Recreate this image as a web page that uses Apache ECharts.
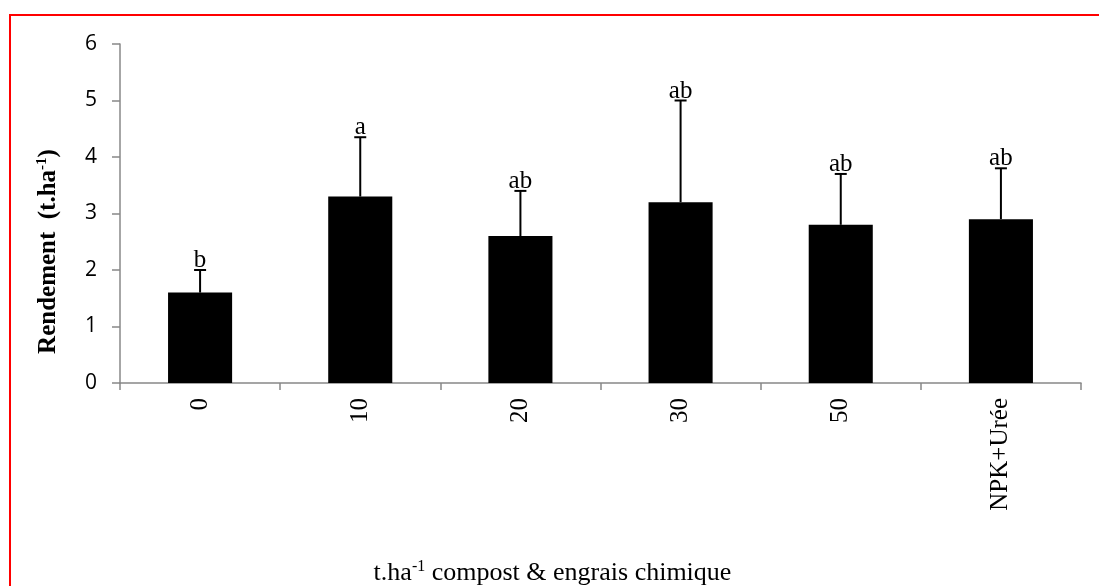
<!DOCTYPE html>
<html><head><meta charset="utf-8">
<script src="https://cdn.jsdelivr.net/npm/echarts@6/dist/echarts.min.js"></script>
<style>html,body{margin:0;padding:0;background:#fff}#c{width:1099px;height:586px}</style>
</head><body><div id="c"></div>
<script>
var categories = ['0', '10', '20', '30', '50', 'NPK+Urée'];
var yields = [1.6, 3.3, 2.6, 3.2, 2.8, 2.9];
var errorTops = [2.0, 4.35, 3.4, 5.0, 3.7, 3.8];
var letters = ['b', 'a', 'ab', 'ab', 'ab', 'ab'];
var yTicks = [0, 1, 2, 3, 4, 5, 6];

var chart = echarts.init(document.getElementById('c'));
var errData = categories.map(function (c, i) { return [i, yields[i], errorTops[i], letters[i]]; });

chart.setOption({
  animation: false,
  graphic: [{
    type: 'rect', shape: { x: 10, y: 15, width: 1200, height: 700 },
    style: { fill: 'none', stroke: '#ff0000', lineWidth: 2 }, z: 100
  }],
  grid: { left: 120, right: 18, top: 44, bottom: 203, containLabel: false, outerBoundsMode: 'none' },
  xAxis: {
    type: 'category', data: categories,
    axisLine: { lineStyle: { color: '#888', width: 1.5 } },
    axisTick: { show: true, alignWithLabel: false, length: 7, lineStyle: { color: '#888', width: 1.5 } },
    axisLabel: { rotate: 90, fontFamily: 'Liberation Serif', fontSize: 25, color: '#000', margin: 15 },
    name: '{a|t.ha}{s|-1}{a| compost & engrais chimique}',
    nameLocation: 'middle', nameGap: 176,
    nameTextStyle: {
      padding: [0, 96, 0, 0],
      rich: {
        a: { fontFamily: 'Liberation Serif', fontSize: 26, color: '#000' },
        s: { fontFamily: 'Liberation Serif', fontSize: 16, color: '#000', verticalAlign: 'top', padding: [0, 0, 12, 0] }
      }
    }
  },
  yAxis: {
    type: 'value', min: 0, max: 6, interval: 1,
    splitLine: { show: false },
    axisLine: { show: true, lineStyle: { color: '#888', width: 1.5 } },
    axisTick: { show: true, length: 8, lineStyle: { color: '#888', width: 1.5 } },
    axisLabel: {
      fontFamily: 'Open Sans', fontSize: 21, color: '#000', margin: 23,
      formatter: function (v) { return yTicks.indexOf(v) >= 0 ? String(v) : ''; }
    },
    name: '{a|Rendement  (t.ha}{s|-1}{a|)}',
    nameLocation: 'middle', nameGap: 58, nameRotate: 90,
    nameTextStyle: {
      padding: [0, 76, 0, 0],
      rich: {
        a: { fontFamily: 'Liberation Serif', fontSize: 25, fontWeight: 'bold', color: '#000' },
        s: { fontFamily: 'Liberation Serif', fontSize: 15, fontWeight: 'bold', color: '#000', verticalAlign: 'top', padding: [0, 0, 12, 0] }
      }
    }
  },
  series: [{
    type: 'bar', data: yields, barWidth: '40%',
    itemStyle: { color: '#000' }
  }, {
    type: 'custom', data: errData,
    renderItem: function (params, api) {
      var i = api.value(0);
      var p0 = api.coord([i, api.value(1)]);
      var p1 = api.coord([i, api.value(2)]);
      var cap = 6;
      return {
        type: 'group',
        children: [
          { type: 'line', shape: { x1: p0[0], y1: p0[1], x2: p1[0], y2: p1[1] }, style: { stroke: '#000', lineWidth: 2 } },
          { type: 'line', shape: { x1: p1[0] - cap, y1: p1[1], x2: p1[0] + cap, y2: p1[1] }, style: { stroke: '#000', lineWidth: 2 } },
          { type: 'text', x: p1[0], y: p1[1] + 3, style: { text: letters[params.dataIndex], fontFamily: 'Liberation Serif', fontSize: 25, fill: '#000', align: 'center', verticalAlign: 'bottom' } }
        ]
      };
    },
    z: 5
  }]
});
</script></body></html>
